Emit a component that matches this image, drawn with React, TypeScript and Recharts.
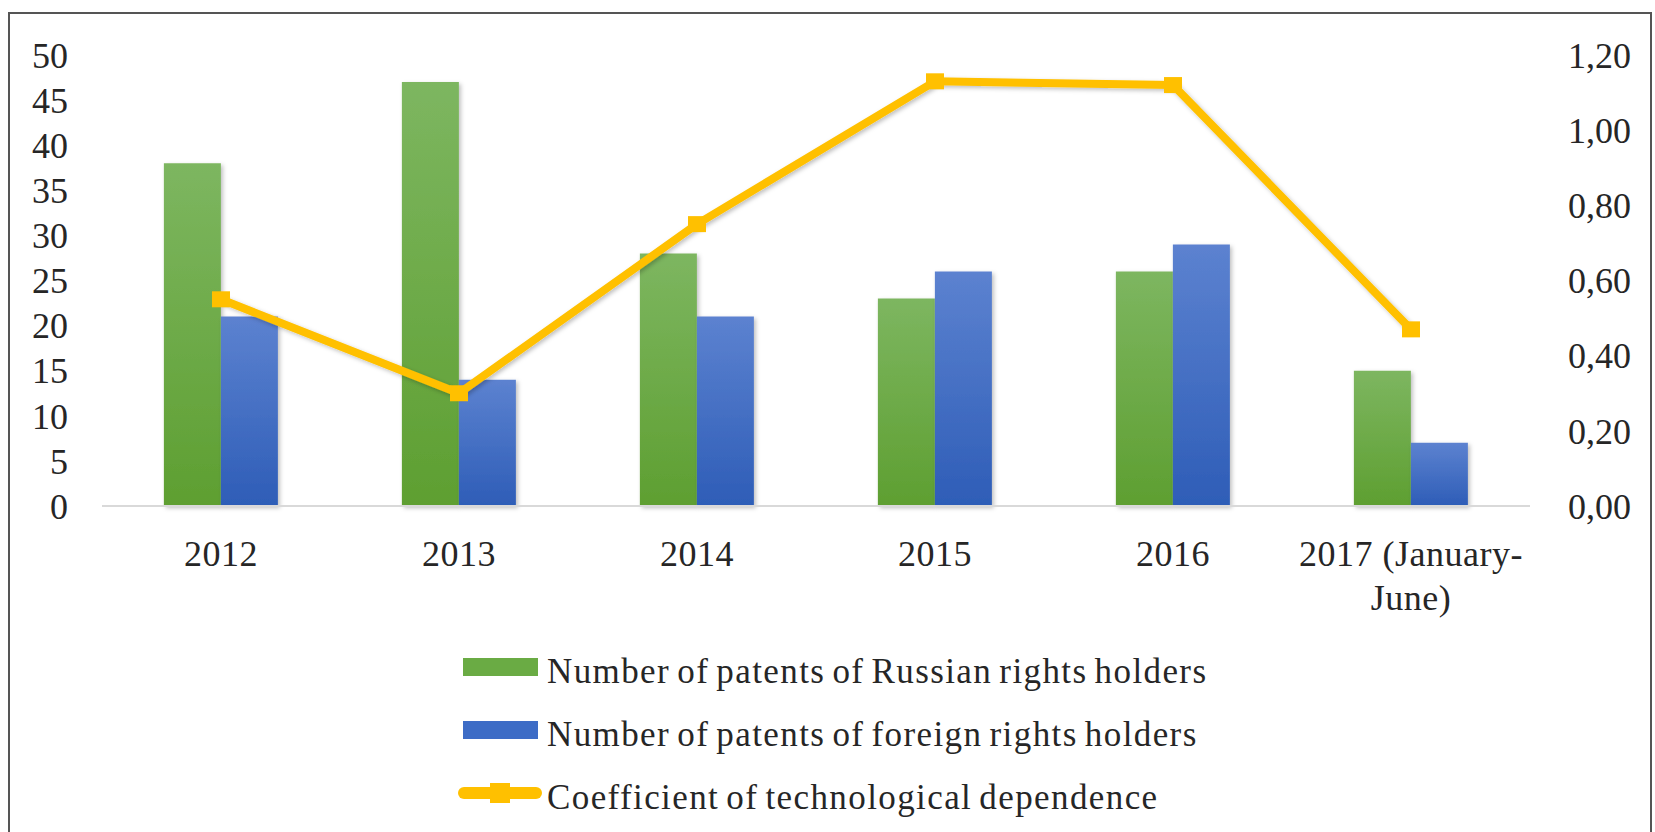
import React from "react";
import {
  ComposedChart,
  Bar,
  Line,
  XAxis,
  YAxis,
  Legend,
} from "recharts";

const years = ["2012", "2013", "2014", "2015", "2016", "2017 (January-June)"];
const russianPatents = [38, 47, 28, 23, 26, 15];
const foreignPatents = [21, 14, 21, 26, 29, 7];
const techDependence = [0.55, 0.3, 0.75, 1.13, 1.12, 0.47];

const leftTicks = [0, 5, 10, 15, 20, 25, 30, 35, 40, 45, 50];
const rightTicks = [0, 0.2, 0.4, 0.6, 0.8, 1.0, 1.2];

const seriesNames = {
  russian: "Number of patents of Russian rights holders",
  foreign: "Number of patents of foreign rights holders",
  coef: "Coefficient of technological dependence",
};

const FONT = "'Liberation Serif', 'Times New Roman', serif";
const TEXT = "#262626";
const GREEN = "#6aab44";
const BLUE = "#3d6cc6";
const GOLD = "#ffc000";

const data = years.map((year, i) => ({
  year,
  russian: russianPatents[i],
  foreign: foreignPatents[i],
  coef: techDependence[i],
}));

const fmtComma = (v: number) => v.toFixed(2).replace(".", ",");

function YearTick({ x, y, payload }: any) {
  const lines = String(payload.value).split(/(?<=-)/);
  return (
    <g transform={`translate(${x},${y})`}>
      {lines.map((ln, i) => (
        <text
          key={i}
          x={0}
          y={58 + i * 44}
          textAnchor="middle"
          fontFamily={FONT}
          fontSize={36}
          letterSpacing={0.5}
          fill={TEXT}
        >
          {ln}
        </text>
      ))}
    </g>
  );
}

function SquareDot({ cx, cy }: any) {
  if (cx == null || cy == null) return null;
  return <rect x={cx - 9} y={cy - 8} width={18} height={16} fill={GOLD} />;
}

function LegendBox() {
  const rows = [
    { key: "russian", kind: "bar", color: GREEN },
    { key: "foreign", kind: "bar", color: BLUE },
    { key: "coef", kind: "line", color: GOLD },
  ];
  return (
    <div style={{ position: "relative", width: 900, height: 190 }}>
      {rows.map((r, i) => {
        const cy = 27 + i * 63;
        return (
          <div key={r.key}>
            {r.kind === "bar" ? (
              <div
                style={{
                  position: "absolute",
                  left: 5,
                  top: cy - 9,
                  width: 75,
                  height: 18,
                  background: r.color,
                }}
              />
            ) : (
              <>
                <div
                  style={{
                    position: "absolute",
                    left: 0,
                    top: cy - 6,
                    width: 84,
                    height: 12,
                    borderRadius: 6,
                    background: r.color,
                  }}
                />
                <div
                  style={{
                    position: "absolute",
                    left: 32,
                    top: cy - 10,
                    width: 20,
                    height: 20,
                    background: r.color,
                  }}
                />
              </>
            )}
            <div
              style={{
                position: "absolute",
                left: 89,
                top: cy - 17,
                fontFamily: FONT,
                fontSize: 35,
                lineHeight: "44px",
                color: TEXT,
                whiteSpace: "nowrap",
                letterSpacing: 1.4,
                wordSpacing: -3,
              }}
            >
              {seriesNames[r.key as keyof typeof seriesNames]}
            </div>
          </div>
        );
      })}
    </div>
  );
}

export default function App() {
  return (
    <div style={{ position: "relative", width: 1655, height: 832, background: "#fff", overflow: "hidden" }}>
      <style>{"body{margin:0}"}</style>
      <div
        style={{
          position: "absolute",
          left: 8,
          top: 12,
          width: 1644,
          height: 900,
          border: "2px solid #555",
          boxSizing: "border-box",
        }}
      />
      <div style={{ position: "absolute", left: 0, top: 0 }}>
        <ComposedChart
          width={1655}
          height={832}
          data={data}
          margin={{ top: 55, right: 25, left: 0, bottom: 226 }}
          barCategoryGap="26%"
          barGap={0}
        >
          <defs>
            <linearGradient id="gGreen" x1="0" y1="0" x2="0" y2="1">
              <stop offset="0%" stopColor="#7db660" />
              <stop offset="100%" stopColor="#5e9f31" />
            </linearGradient>
            <linearGradient id="gBlue" x1="0" y1="0" x2="0" y2="1">
              <stop offset="0%" stopColor="#5c82d0" />
              <stop offset="100%" stopColor="#2e5db7" />
            </linearGradient>
            <filter id="shadow" x="-20%" y="-20%" width="140%" height="140%">
              <feDropShadow dx="2" dy="2" stdDeviation="2" floodColor="#000" floodOpacity="0.25" />
            </filter>
          </defs>
          <XAxis
            dataKey="year"
            height={100}
            tick={<YearTick />}
            tickLine={false}
            tickSize={0}
            axisLine={{ stroke: "#d9d9d9", strokeWidth: 2 }}
            interval={0}
          />
          <YAxis
            yAxisId="left"
            domain={[0, 50]}
            ticks={leftTicks}
            interval={0}
            width={102}
            axisLine={false}
            tickLine={false}
            tickSize={0}
            tickMargin={34}
            tick={{ fontSize: 36, fontFamily: FONT, fill: TEXT }}
          />
          <YAxis
            yAxisId="right"
            orientation="right"
            domain={[0, 1.2]}
            ticks={rightTicks}
            interval={0}
            width={100}
            axisLine={false}
            tickLine={false}
            tickSize={0}
            tickMargin={38}
            tickFormatter={fmtComma}
            tick={{ fontSize: 36, fontFamily: FONT, fill: TEXT, textAnchor: "start" }}
          />
          <Bar
            yAxisId="left"
            dataKey="russian"
            name={seriesNames.russian}
            fill="url(#gGreen)"
            filter="url(#shadow)"
            isAnimationActive={false}
          />
          <Bar
            yAxisId="left"
            dataKey="foreign"
            name={seriesNames.foreign}
            fill="url(#gBlue)"
            filter="url(#shadow)"
            isAnimationActive={false}
          />
          <Line
            yAxisId="right"
            dataKey="coef"
            name={seriesNames.coef}
            type="linear"
            stroke={GOLD}
            strokeWidth={8}
            strokeLinejoin="round"
            filter="url(#shadow)"
            dot={<SquareDot />}
            activeDot={false}
            isAnimationActive={false}
          />
          <Legend
            layout="horizontal"
            verticalAlign="middle"
            align="center"
            content={() => <LegendBox />}
            wrapperStyle={{ left: 458, top: 640, width: 900, height: 190 }}
          />
        </ComposedChart>
      </div>
    </div>
  );
}
